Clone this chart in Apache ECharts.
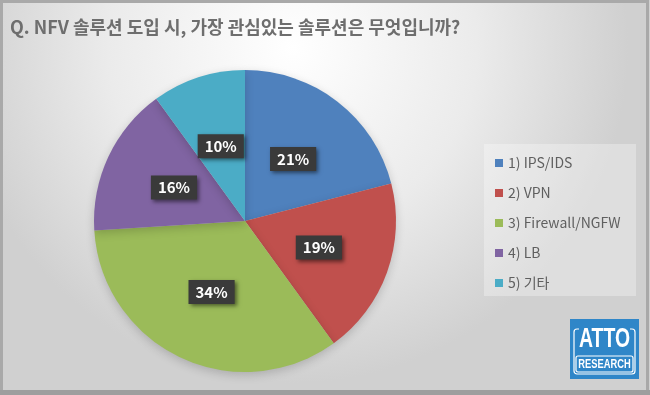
<!DOCTYPE html>
<html>
<head>
<meta charset="utf-8">
<script src="https://cdn.jsdelivr.net/npm/echarts@6/dist/echarts.min.js"></script>
<style>
  html, body { margin: 0; padding: 0; }
  #chart { width: 650px; height: 395px; }
</style>
</head>
<body>
<div id="chart"></div>
<script>
// 설문 데이터
const categories = ['1) IPS/IDS', '2) VPN', '3) Firewall/NGFW', '4) LB', '5) 기타'];
const shares = [21, 19, 34, 16, 10];
const colors = ['#4f81bd', '#c0504d', '#9bbb59', '#8064a2', '#4bacc6'];

const titleText = 'Q. NFV 솔루션 도입 시, 가장 관심있는 솔루션은 무엇입니까?';
const font = '"Noto Sans CJK KR", "Noto Sans", sans-serif';

const chart = echarts.init(document.getElementById('chart'));

const option = {
  animation: false,
  backgroundColor: {
    type: 'radial',
    x: 0.45,
    y: 0.12,
    r: 0.85,
    colorStops: [
      { offset: 0, color: '#ffffff' },
      { offset: 0.55, color: '#ebebeb' },
      { offset: 1, color: '#d0d0d0' },
    ],
  },
  color: colors,
  title: {
    text: titleText,
    left: 5,
    top: 13,
    textStyle: {
      fontFamily: font,
      fontSize: 18,
      fontWeight: 'bold',
      color: '#6e6e6e',
    },
  },
  legend: {
    orient: 'vertical',
    left: 490,
    top: 150,
    icon: 'rect',
    itemWidth: 8,
    itemHeight: 8,
    itemGap: 14,
    data: categories,
    textStyle: {
      fontFamily: font,
      fontSize: 14,
      lineHeight: 16,
      color: '#5f5f5f',
    },
  },
  graphic: [
    // 외곽 테두리
    {
      type: 'rect',
      shape: { x: 1.5, y: 1.5, width: 646, height: 390 },
      style: { fill: 'none', stroke: '#a9a9a9', lineWidth: 3 },
      z: 100,
    },
    {
      type: 'rect',
      shape: { x: 0, y: 390, width: 650, height: 5 },
      style: { fill: '#9e9e9e' },
      z: 100,
    },
    // 범례 박스
    {
      type: 'rect',
      shape: { x: 484, y: 144, width: 152, height: 152 },
      style: { fill: 'rgba(255,255,255,0.3)' },
      z: -1,
    },
    // ATTO 로고
    {
      type: 'group',
      left: 570,
      top: 319,
      children: [
        { type: 'rect', shape: { x: 0, y: 0, width: 69, height: 60 }, style: { fill: '#2f86c8' } },
        {
          type: 'rect',
          shape: { x: 4, y: 10, width: 61, height: 45, r: 3 },
          style: { fill: 'none', stroke: '#ffffff', lineWidth: 1.2 },
        },
        {
          type: 'rect',
          shape: { x: 9, y: 6, width: 51, height: 28 },
          style: { fill: '#2f86c8' },
        },
        {
          type: 'text',
          x: 34.5,
          y: 21,
          scaleX: 0.72,
          style: {
            text: 'ATTO',
            fill: '#ffffff',
            font: 'bold 27px "Liberation Sans", sans-serif',
            align: 'center',
            verticalAlign: 'middle',
          },
        },
        {
          type: 'rect',
          shape: { x: 6, y: 37, width: 57, height: 16, r: 2 },
          style: { fill: 'none', stroke: '#ffffff', lineWidth: 1.2 },
        },
        {
          type: 'text',
          x: 34.5,
          y: 45.5,
          scaleX: 0.78,
          style: {
            text: 'RESEARCH',
            fill: '#ffffff',
            font: 'bold 12px "Liberation Sans", sans-serif',
            align: 'center',
            verticalAlign: 'middle',
          },
        },
      ],
    },
  ],
  series: [
    {
      type: 'pie',
      center: [245, 221],
      radius: [0, 151],
      startAngle: 90,
      clockwise: true,
      label: {
        show: true,
        position: 'inside',
        formatter: p => `${p.value}%`,
        fontFamily: font,
        fontSize: 15,
        fontWeight: 'bold',
        color: '#ffffff',
        backgroundColor: '#3a3a3a',
        padding: [5, 7, 4, 7],
        shadowColor: 'rgba(0,0,0,0.5)',
        shadowBlur: 4,
        shadowOffsetX: 2,
        shadowOffsetY: 2,
      },
      labelLine: { show: false },
      itemStyle: {
        borderWidth: 0,
        shadowColor: 'rgba(0,0,0,0.18)',
        shadowBlur: 10,
        shadowOffsetY: 3,
      },
      emphasis: { disabled: true },
      data: categories.map((name, i) => ({ name, value: shares[i] })),
    },
  ],
};

chart.setOption(option);
</script>
</body>
</html>
